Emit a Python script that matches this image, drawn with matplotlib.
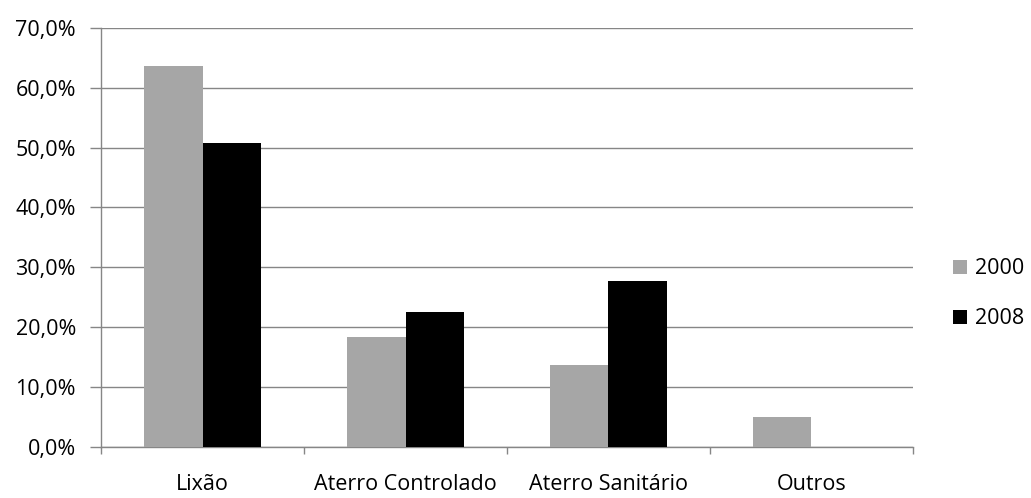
import matplotlib
matplotlib.use("Agg")
import matplotlib.pyplot as plt
import numpy as np
from matplotlib.ticker import FuncFormatter

categories = ["Lixão", "Aterro Controlado", "Aterro Sanitário", "Outros"]
series_names = ["2000", "2008"]
values_2000 = [63.6, 18.4, 13.7, 5.0]
values_2008 = [50.8, 22.5, 27.7, 0.0]
y_ticks = [0, 10, 20, 30, 40, 50, 60, 70]

plt.rcParams['font.family'] = ['Open Sans', 'DejaVu Sans']

fig = plt.figure(figsize=(10.31, 4.98), dpi=100)
ax = fig.add_axes([0.098, 0.103, 0.7875, 0.8407])

x = np.arange(len(categories))
w = 0.286
grid_c = "#868686"
fs = 15.5
b1 = ax.bar(x - w / 2, values_2000, width=w, color="#A6A6A6", label=series_names[0], zorder=3)
b2 = ax.bar(x + w / 2, values_2008, width=w, color="#000000", label=series_names[1], zorder=3)

ax.set_xlim(-0.5, len(categories) - 0.5)
ax.set_ylim(0, 70)
ax.set_yticks(y_ticks)
ax.yaxis.set_major_formatter(FuncFormatter(lambda v, p: f"{v:.1f}".replace(".", ",") + "%"))
ax.yaxis.grid(True, color=grid_c, linewidth=1.0, zorder=0)

ax.set_xticks(x)
ax.set_xticklabels(categories)
ax.set_xticks(np.arange(len(categories) + 1) - 0.5, minor=True)
ax.tick_params(axis="x", which="major", length=0, pad=20, labelsize=fs)
ax.tick_params(axis="x", which="minor", length=5, width=1, color=grid_c, direction="out")
ax.tick_params(axis="y", length=8, width=1, color=grid_c, pad=10, labelsize=fs)

for side in ["top", "right"]:
    ax.spines[side].set_visible(False)
for side in ["left", "bottom"]:
    ax.spines[side].set_color(grid_c)
    ax.spines[side].set_linewidth(1.0)

fig.legend(handles=[b1, b2], labels=series_names, loc="center left",
           bbox_to_anchor=(0.912, 0.41), frameon=False, fontsize=fs,
           borderpad=0.1, handlelength=0.65, handleheight=0.65,
           handletextpad=0.35, labelspacing=1.35)

fig.savefig("out.png", dpi=100)
